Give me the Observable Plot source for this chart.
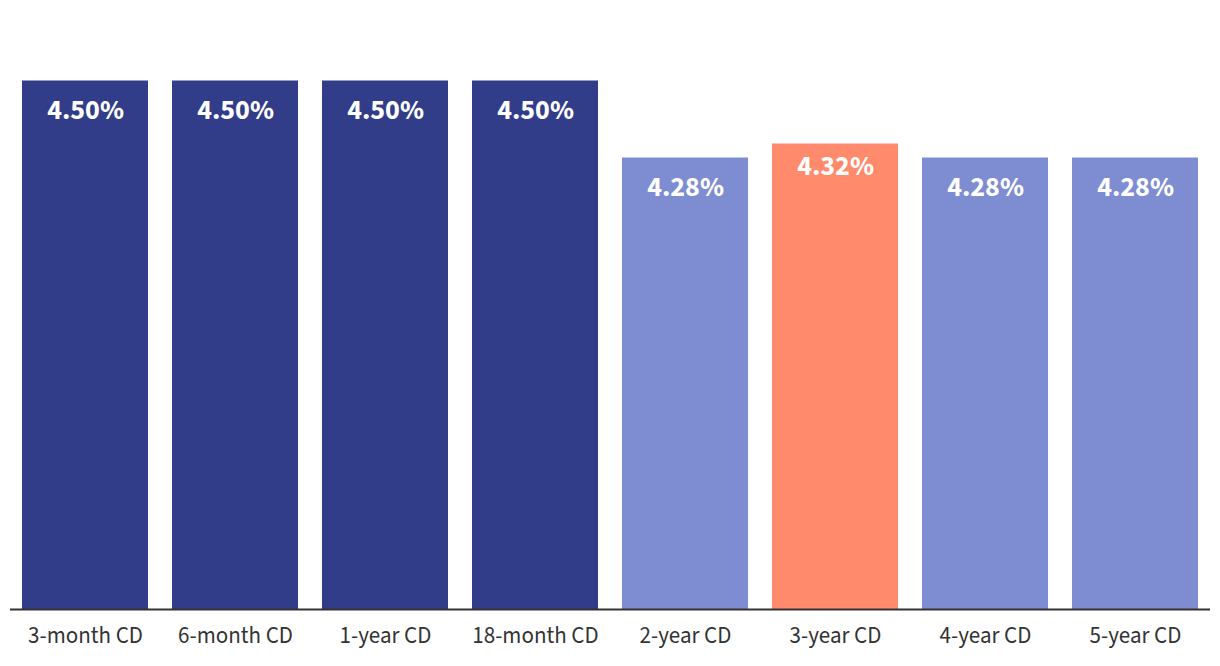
<!DOCTYPE html>
<html>
<head>
<meta charset="utf-8">
<script src="https://cdn.jsdelivr.net/npm/d3@7"></script>
<script src="https://cdn.jsdelivr.net/npm/@observablehq/plot@0.6"></script>
<style>
  html, body { margin: 0; padding: 0; background: #fff; }
  #chart svg { display: block; }
</style>
</head>
<body>
<div id="chart"></div>
<script>
const categories = ["3-month CD", "6-month CD", "1-year CD", "18-month CD", "2-year CD", "3-year CD", "4-year CD", "5-year CD"];
const rates = [4.50, 4.50, 4.50, 4.50, 4.28, 4.32, 4.28, 4.28];
const groups = ["short", "short", "short", "short", "long", "highlight", "long", "long"];
const groupColors = { short: "#323d8a", long: "#7e8dd1", highlight: "#ff8a6c" };

const base = 2.99;
const data = categories.map((c, i) => ({ category: c, rate: rates[i], group: groups[i] }));

const font = "'Source Sans Pro', 'Source Sans 3', Lato, 'Noto Sans', sans-serif";

const labelOpts = {
  x: "category",
  y: "rate",
  text: d => d.rate.toFixed(2) + "%",
  fill: "#fff",
  fontSize: 28,
  fontWeight: "bold",
  fontFamily: font
};

const chart = Plot.plot({
  width: 1220,
  height: 666,
  marginLeft: 10,
  marginRight: 10,
  marginTop: 0,
  marginBottom: 57,
  style: { fontFamily: font, background: "#fff" },
  x: { domain: categories, paddingInner: 0.16, paddingOuter: 0.08, label: null },
  y: { domain: [base, 4.73], axis: null },
  marks: [
    Plot.barY(data, {
      x: "category",
      y1: () => base,
      y2: "rate",
      fill: d => groupColors[d.group]
    }),
    Plot.ruleY([base], { stroke: "#333", strokeWidth: 2 }),
    Plot.text(data.filter(d => d.group !== "highlight"), { ...labelOpts, dy: 29 }),
    Plot.text(data.filter(d => d.group === "highlight"), { ...labelOpts, dy: 22 }),
    Plot.axisX({
      tickSize: 0,
      tickPadding: 17,
      fontSize: 23,
      fill: "#333",
      fontFamily: font,
      label: null
    })
  ]
});

document.getElementById("chart").append(chart);
</script>
</body>
</html>
